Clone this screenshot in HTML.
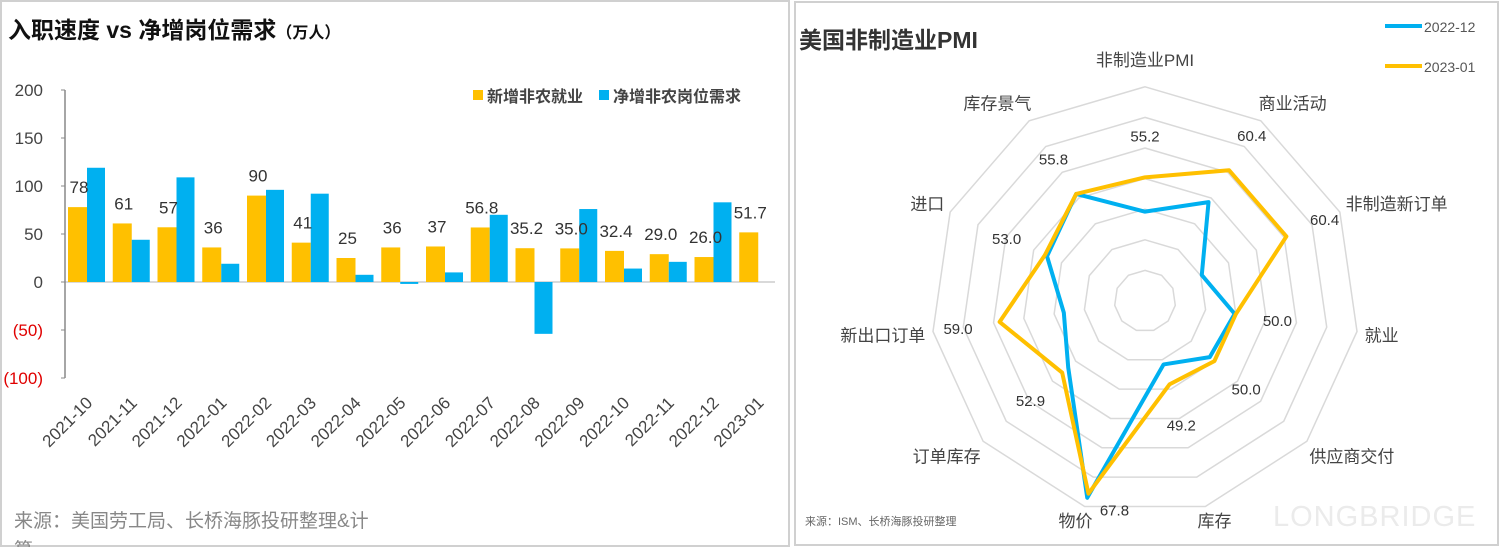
<!DOCTYPE html>
<html><head><meta charset="utf-8">
<style>
html,body{margin:0;padding:0;background:#fff;}
body{width:1500px;height:547px;overflow:hidden;position:relative;font-family:"Liberation Sans","Noto Sans CJK SC",sans-serif;}
svg{position:absolute;top:0;}
text{font-family:"Liberation Sans","Noto Sans CJK SC",sans-serif;}
</style></head>
<body>
<svg id="left" width="792" height="547" style="left:0">
  <rect x="1" y="1" width="788" height="545" fill="none" stroke="#d0d0d0" stroke-width="2"/>
  <text x="8" y="38" font-size="23" font-weight="bold" fill="#111">入职速度 vs 净增岗位需求<tspan font-size="16">（万人）</tspan></text>
  <g id="lbars"></g>
  <g>
    <rect x="473" y="90" width="10" height="10" fill="#FFC000"/>
    <text x="487" y="102" font-size="16" font-weight="bold" fill="#444">新增非农就业</text>
    <rect x="599" y="90" width="10" height="10" fill="#00B0F0"/>
    <text x="613" y="102" font-size="16" font-weight="bold" fill="#444">净增非农岗位需求</text>
  </g>
  <text x="14" y="527" font-size="19" fill="#888">来源：美国劳工局、长桥海豚投研整理&amp;计</text>
  <text x="14" y="556" font-size="19" fill="#888">算</text>
</svg>
<svg id="right" width="707" height="547" style="left:793px">
  <rect x="2" y="2" width="703" height="543" fill="none" stroke="#d0d0d0" stroke-width="2"/>
  <text x="6" y="48" font-size="23" font-weight="bold" fill="#333">美国非制造业PMI</text>
  <g>
    <line x1="592" y1="26" x2="629" y2="26" stroke="#00B0F0" stroke-width="4"/>
    <text x="631" y="32" font-size="14" fill="#555">2022-12</text>
    <line x1="592" y1="66" x2="629" y2="66" stroke="#FFC000" stroke-width="4"/>
    <text x="631" y="72" font-size="14" fill="#555">2023-01</text>
  </g>
  <text x="480" y="526" font-size="29" fill="#ebebeb" letter-spacing="1">LONGBRIDGE</text>
  <g id="radar"></g>
  <text x="12" y="525" font-size="11" fill="#666">来源：ISM、长桥海豚投研整理</text>
</svg>
<script>
// ---------- bar chart data ----------
const categories = ["2021-10","2021-11","2021-12","2022-01","2022-02","2022-03","2022-04","2022-05","2022-06","2022-07","2022-08","2022-09","2022-10","2022-11","2022-12","2023-01"];
const newJobs = [78,61,57,36,90,41,25,36,37,56.8,35.2,35.0,32.4,29.0,26.0,51.7];
const newJobLabels = ["78","61","57","36","90","41","25","36","37","56.8","35.2","35.0","32.4","29.0","26.0","51.7"];
const openings = [119,44,109,19,96,92,7.5,-2,10,70,-54,76,14,21,83,null];
const yTicks = [200,150,100,50,0,-50,-100];
const yTickLabels = ["200","150","100","50","0","(50)","(100)"];

// ---------- radar data ----------
const radarAxes = ["非制造业PMI","商业活动","非制造新订单","就业","供应商交付","库存","物价","订单库存","新出口订单","进口","库存景气"];
const dec2022 = [49.6,54.2,45.2,49.8,49.0,45.8,68.5,51.6,48.4,52.6,55.8];
const jan2023 = [55.2,60.4,60.4,50.0,50.0,49.2,67.8,52.9,59.0,53.0,55.8];
const jan2023Labels = ["55.2","60.4","60.4","50.0","50.0","49.2","67.8","52.9","59.0","53.0","55.8"];
const ringValues = [40,45,50,55,60,65,70];

const NS="http://www.w3.org/2000/svg";
function mk(tag,attrs,parent){const e=document.createElementNS(NS,tag);for(const k in attrs)e.setAttribute(k,attrs[k]);parent.appendChild(e);return e;}

// ---------- bar chart ----------
(function(){
  const g=document.getElementById('lbars');
  const x0=65, x1=781, band=(x1-x0)/categories.length;
  const y=v=>282-v*0.96;
  const zl=mk('line',{x1:x0,y1:y(0),x2:775,y2:y(0),stroke:'#d9d9d9','stroke-width':2},g);
  
  const ax=mk('line',{x1:x0,y1:y(200),x2:x0,y2:y(-100),stroke:'#888','stroke-width':1.5},g);
  
  yTicks.forEach((t,i)=>{
    const tk=mk('line',{x1:x0-4,y1:y(t),x2:x0,y2:y(t),stroke:'#888'},g);
    
    const tx=mk('text',{x:43,y:y(t)+6,'font-size':17,'text-anchor':'end',fill:t<0?'#e00000':'#444'},g);
    
    tx.textContent=yTickLabels[i];
  });
  categories.forEach((c,i)=>{
    const bx=x0+i*band;
    const v=newJobs[i];
    const r=mk('rect',{x:bx+3,y:Math.min(y(v),y(0)),width:19,height:Math.abs(y(v)-y(0)),fill:'#FFC000'},g);
    
    
    const o=openings[i];
    if(o!==null){
      const b=mk('rect',{x:bx+22,y:Math.min(y(o),y(0)),width:18,height:Math.max(1,Math.abs(y(o)-y(0))),fill:'#00B0F0'},g);
      
      
    }
    const lt=mk('text',{x:bx+14,y:y(v)-14,'font-size':17,'text-anchor':'middle',fill:'#333'},g);
    
    
    lt.textContent=newJobLabels[i];
    const cx=bx+band/2+6, cy=404;
    const xl=mk('text',{x:cx,y:cy,'font-size':17,'text-anchor':'end',fill:'#444',transform:`rotate(-45 ${cx} ${cy})`},g);
    
    
    xl.textContent=c;
  });
})();

// ---------- radar ----------
(function(){
  const g=document.getElementById('radar');
  const cx=352, cy=301, rMin=35, k=6.12;
  const n=radarAxes.length;
  const rad=v=>(v-rMin)*k;
  const pt=(i,r)=>{const a=i*2*Math.PI/n;return [cx+r*Math.sin(a), cy-r*Math.cos(a)];};
  ringValues.forEach(v=>{
    const pts=[];for(let i=0;i<n;i++)pts.push(pt(i,rad(v)).join(','));
    const p=mk('polygon',{points:pts.join(' '),fill:'none',stroke:'#d9d9d9','stroke-width':1.5},g);
    
  });
  radarAxes.forEach((a,i)=>{
    let [x,y]=pt(i,236);
    if(i===0) y-=6;
    const side=Math.abs(x-cx)<20?'middle':(x>cx?'start':'end');
    const t=mk('text',{x:side==='middle'?x:x+(x>cx?-14:14),y:Math.min(y+7,527),'font-size':17,'text-anchor':side,fill:'#444'},g);
    
    t.textContent=a;
  });
  function series(vals,color,name){
    const pts=vals.map((v,i)=>pt(i,rad(v)).join(','));
    const p=mk('polygon',{points:pts.join(' '),fill:'none',stroke:color,'stroke-width':4,'stroke-linejoin':'round'},g);
    
  }
  series(dec2022,'#00B0F0','series-2022-12');
  series(jan2023,'#FFC000','series-2023-01');
  jan2023.forEach((v,i)=>{
    let [x,y]=pt(i,rad(v)+42);
    if(y>500){const p=pt(i,rad(v));x=p[0]+26;y=p[1]+16;}
    const t=mk('text',{x:x,y:y+6,'font-size':15,'text-anchor':'middle',fill:'#333'},g);
    
    t.textContent=jan2023Labels[i];
  });
})();
</script>
</body></html>
